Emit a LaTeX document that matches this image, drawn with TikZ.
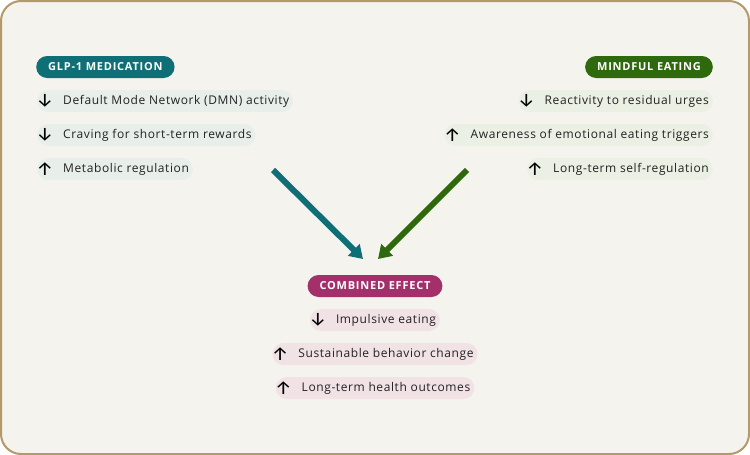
\documentclass[tikz,border=0pt]{standalone}
\usepackage{fontspec}
\setmainfont{Open Sans}
\newfontfamily\markfont{Fira Sans}
\usetikzlibrary{arrows.meta}

\definecolor{pagebg}{HTML}{F5F3EE}
\definecolor{frame}{HTML}{B39A68}
\definecolor{glpcol}{HTML}{0F6F76}
\definecolor{mindcol}{HTML}{2F690D}
\definecolor{combcol}{HTML}{A3306B}
\definecolor{glplight}{HTML}{E8EFEA}
\definecolor{mindlight}{HTML}{EBF0E4}
\definecolor{comblight}{HTML}{F1E2E6}
\definecolor{ink}{HTML}{222222}

\tikzset{
  header/.style={fill=#1, text=white, rounded corners=11pt, minimum height=22pt,
    inner xsep=12pt, inner ysep=0pt,
    font=\fontsize{11}{13}\selectfont\bfseries\addfontfeatures{LetterSpace=7}},
  item/.style={fill=#1, text=ink, rounded corners=11pt, minimum height=22pt,
    inner xsep=4pt, inner ysep=0pt,
    font=\fontsize{12}{14}\selectfont\addfontfeatures{LetterSpace=5}},
  dirmark/.style={inner sep=0pt, text=black,
    font=\fontsize{19}{19}\selectfont\markfont\mdseries},
  flow/.style={line width=6pt, draw=#1,
    -{Triangle[width=16pt,length=13pt,fill=#1]}}
}
\newcommand{\itemtext}[1]{\hspace*{22pt}#1}

\begin{document}
\begin{tikzpicture}[x=1pt,y=-1pt]
  % canvas
  \useasboundingbox (0,0) rectangle (750,455);
  \draw[fill=pagebg, draw=frame, line width=2pt, rounded corners=20pt]
    (1,1) rectangle (749,454);

  % GLP-1 medication column
  \node[header=glpcol, anchor=west] (glp) at (36,67) {GLP-1 MEDICATION};
  \node[item=glplight, anchor=west] (g1) at (37,101) {\itemtext{Default Mode Network (DMN) activity}};
  \node[item=glplight, anchor=west] (g2) at (37,135) {\itemtext{Craving for short-term rewards}};
  \node[item=glplight, anchor=west] (g3) at (37,169) {\itemtext{Metabolic regulation}};
  \node[dirmark] (g1m) at ([xshift=8pt]g1.west) {↓};
  \node[dirmark] (g2m) at ([xshift=8pt]g2.west) {↓};
  \node[dirmark] (g3m) at ([xshift=8pt]g3.west) {↑};

  % Mindful eating column
  \node[header=mindcol, anchor=east] (mind) at (713,67) {MINDFUL EATING};
  \node[item=mindlight, anchor=east] (m1) at (713,101) {\itemtext{Reactivity to residual urges}};
  \node[item=mindlight, anchor=east] (m2) at (713,135) {\itemtext{Awareness of emotional eating triggers}};
  \node[item=mindlight, anchor=east] (m3) at (713,169) {\itemtext{Long-term self-regulation}};
  \node[dirmark] (m1m) at ([xshift=8pt]m1.west) {↓};
  \node[dirmark] (m2m) at ([xshift=8pt]m2.west) {↑};
  \node[dirmark] (m3m) at ([xshift=8pt]m3.west) {↑};

  % Combined effect
  \node[header=combcol] (comb) at (375,286) {COMBINED EFFECT};
  \node[item=comblight] (c1) at (375,320) {\itemtext{Impulsive eating}};
  \node[item=comblight] (c2) at (375,354) {\itemtext{Sustainable behavior change}};
  \node[item=comblight] (c3) at (375,388) {\itemtext{Long-term health outcomes}};
  \node[dirmark] (c1m) at ([xshift=8pt]c1.west) {↓};
  \node[dirmark] (c2m) at ([xshift=8pt]c2.west) {↑};
  \node[dirmark] (c3m) at ([xshift=8pt]c3.west) {↑};

  % converging arrows
  \coordinate (ga) at (273,170);
  \coordinate (gb) at (363,259);
  \coordinate (ma) at (467,170);
  \coordinate (mb) at (378,259);
  \draw[flow=glpcol] (ga) -- (gb);
  \draw[flow=mindcol] (ma) -- (mb);
\end{tikzpicture}
\end{document}
